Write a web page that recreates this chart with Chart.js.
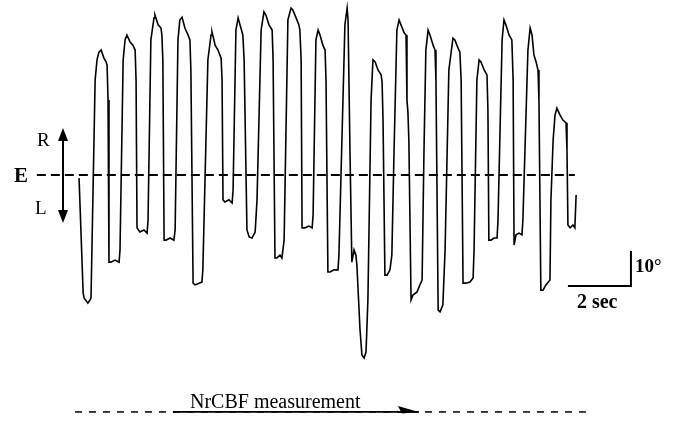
<!DOCTYPE html>
<html>
<head>
<meta charset="utf-8">
<script src="https://cdn.jsdelivr.net/npm/chart.js@4.4.1/dist/chart.umd.min.js"></script>
<style>
  body { margin: 0; background: #fff; }
  #wrap { width: 678px; height: 422px; }
</style>
</head>
<body>
<div id="wrap"><canvas id="eyeChart" width="678" height="422"></canvas></div>
<script>
// horizontal eye position trace
// time in seconds from trace start, position in degrees (+ = right, - = left)
const timeSec = [
  -0.03, 0.10, 0.13, 0.25, 0.32, 0.35, 0.48, 0.54, 0.60, 0.67, 0.76, 0.83, 0.86, 0.89, 0.92,
  0.98, 1.11, 1.24, 1.27, 1.37, 1.43, 1.49, 1.59, 1.68, 1.75, 1.78, 1.81, 1.90, 2.03, 2.13,
  2.16, 2.25, 2.35, 2.38, 2.48, 2.57, 2.60, 2.63, 2.67, 2.73, 2.86, 2.98, 3.02, 3.11, 3.17,
  3.24, 3.33, 3.43, 3.49, 3.52, 3.59, 3.65, 3.78, 3.87, 3.90, 4.06, 4.16, 4.19, 4.29, 4.38,
  4.48, 4.51, 4.54, 4.60, 4.73, 4.83, 4.86, 4.95, 5.02, 5.08, 5.17, 5.21, 5.30, 5.37, 5.46,
  5.56, 5.62, 5.75, 5.84, 5.90, 6.00, 6.10, 6.13, 6.19, 6.25, 6.35, 6.41, 6.48, 6.60, 6.70,
  6.76, 6.86, 6.95, 6.98, 7.02, 7.05, 7.14, 7.27, 7.37, 7.40, 7.49, 7.56, 7.62, 7.71, 7.78,
  7.81, 7.87, 7.94, 8.06, 8.19, 8.22, 8.41, 8.48, 8.51, 8.57, 8.63, 8.70, 8.76, 8.79, 8.89,
  8.95, 9.02, 9.08, 9.14, 9.24, 9.30, 9.37, 9.46, 9.56, 9.59, 9.62, 9.68, 9.75, 9.84, 9.90,
  9.97, 10.06, 10.13, 10.19, 10.29, 10.35, 10.38, 10.41, 10.44, 10.51, 10.57, 10.70, 10.79, 10.86, 10.92,
  10.98, 11.05, 11.11, 11.21, 11.27, 11.30, 11.37, 11.43, 11.52, 11.59, 11.71, 11.84, 11.90, 12.00, 12.06,
  12.10, 12.16, 12.25, 12.38, 12.48, 12.51, 12.60, 12.67, 12.73, 12.83, 12.92, 12.95, 12.98, 13.05, 13.14,
  13.24, 13.27, 13.40, 13.46, 13.52, 13.62, 13.71, 13.75, 13.78, 13.84, 13.94, 14.03, 14.06, 14.22, 14.29,
  14.35, 14.41, 14.48, 14.54, 14.57, 14.63, 14.70, 14.79, 14.92, 14.95, 15.02, 15.08, 15.14, 15.24, 15.33,
  15.43, 15.46, 15.49, 15.56, 15.65, 15.71, 15.75
];
const eyeDeg = [
  -0.9, -33.7, -35.1, -36.6, -35.7, -35.1, 27.1, 32.9, 35.1, 35.7, 33.4, 32.3, 31.4, 21.4, -24.9,
  -24.9, -24.3, -24.9, -21.4, 32.9, 38.6, 40.0, 38.0, 37.1, 35.7, 27.1, -15.1, -16.3, -15.7, -16.6,
  -12.9, 38.6, 44.9, 45.7, 42.9, 42.0, 40.0, 32.9, -18.6, -18.6, -18.0, -18.6, -15.7, 38.6, 44.3,
  45.1, 42.0, 40.0, 38.6, 30.0, -30.9, -31.4, -30.9, -30.6, -27.1, 32.9, 40.0, 40.9, 37.1, 35.7,
  33.4, 27.1, -7.1, -7.7, -7.1, -8.0, -4.3, 41.4, 44.9, 42.9, 40.0, 32.9, -15.7, -17.7, -18.0,
  -16.3, -7.1, 41.4, 46.6, 45.7, 42.9, 41.4, 32.9, -23.7, -23.7, -22.9, -23.7, -18.6, 44.3, 47.7,
  47.1, 44.9, 42.9, 41.4, 32.9, -15.1, -15.1, -14.6, -15.1, -11.4, 38.6, 41.4, 40.0, 37.1, 35.7,
  27.1, -27.7, -27.7, -27.1, -27.1, -22.9, 42.9, 47.7, 44.3, 7.1, -24.9, -21.4, -22.9, -25.7, -44.3,
  -51.4, -52.3, -50.6, -35.7, 21.4, 32.9, 32.3, 30.0, 28.6, 26.6, 15.7, -28.6, -28.6, -27.1, -22.9,
  7.1, 41.4, 44.3, 42.9, 40.6, 40.0, 21.4, 18.0, 10.0, -35.7, -34.3, -33.4, -31.4, -30.0, 7.1,
  35.7, 41.4, 40.0, 37.1, 35.7, 27.1, -38.6, -39.1, -37.1, -21.4, 30.0, 39.1, 38.6, 36.3, 35.1,
  27.1, -30.9, -30.9, -30.6, -29.4, -21.4, 27.1, 32.9, 32.3, 30.0, 28.6, 18.6, -18.6, -18.6, -18.0,
  -18.0, -12.9, 38.6, 44.3, 42.9, 40.0, 38.6, 27.1, -20.0, -17.1, -16.6, -17.1, -12.9, 35.7, 42.0,
  40.0, 34.3, 32.3, 30.0, 21.4, -32.9, -32.9, -31.4, -30.0, -7.1, 10.0, 17.1, 19.1, 17.1, 15.7,
  14.9, 7.1, -14.3, -15.1, -14.3, -15.1, -5.7
];

// straight-ahead (E) reference line
const baselineT = [-1.37, 15.71];
const baselineDeg = [0, 0];

// scale bar: 2 sec horizontal, 10 deg vertical
const scaleBarT = [15.49, 17.49, 17.49];
const scaleBarDeg = [-31.7, -31.7, -21.7];

// NrCBF measurement period marker under the trace
const periodDashT = [-0.16, 16.06];
const periodArrowT = [2.95, 10.76];
const periodDeg = -67.7;

const toPoints = (xs, ys) => xs.map((x, i) => ({ x: x, y: ys[i] }));

const serif = "'Liberation Serif', 'DejaVu Serif', serif";

const figureText = {
  id: "figureText",
  afterDraw(chart) {
    const ctx = chart.ctx;
    const xs = chart.scales.x;
    const ys = chart.scales.y;
    const y0 = ys.getPixelForValue(0);
    ctx.save();
    ctx.fillStyle = "#000";
    ctx.strokeStyle = "#000";

    // R / E / L labels with the double arrow
    ctx.textBaseline = "alphabetic";
    ctx.font = "19px " + serif;
    ctx.fillText("R", 37, 146);
    ctx.fillText("L", 35, 214);
    ctx.font = "bold 21px " + serif;
    ctx.fillText("E", 14, y0 + 7);

    const ax = 63;
    ctx.lineWidth = 2;
    ctx.beginPath();
    ctx.moveTo(ax, 138);
    ctx.lineTo(ax, 213);
    ctx.stroke();
    ctx.beginPath();
    ctx.moveTo(ax, 128);
    ctx.lineTo(ax - 5, 141);
    ctx.lineTo(ax + 5, 141);
    ctx.closePath();
    ctx.fill();
    ctx.beginPath();
    ctx.moveTo(ax, 223);
    ctx.lineTo(ax - 5, 210);
    ctx.lineTo(ax + 5, 210);
    ctx.closePath();
    ctx.fill();

    // scale bar labels
    const barX = xs.getPixelForValue(scaleBarT[1]);
    const barTop = ys.getPixelForValue(scaleBarDeg[2]);
    const barBot = ys.getPixelForValue(scaleBarDeg[0]);
    ctx.font = "bold 19px " + serif;
    ctx.fillText("10°", barX + 4, barTop + 21);
    ctx.font = "bold 20px " + serif;
    ctx.fillText("2 sec", xs.getPixelForValue(scaleBarT[0]) + 9, barBot + 22);

    // period arrowhead and text
    const py = ys.getPixelForValue(periodDeg);
    const tip = xs.getPixelForValue(periodArrowT[1]);
    ctx.beginPath();
    ctx.moveTo(tip, py);
    ctx.lineTo(tip - 21, py - 6);
    ctx.lineTo(tip - 17, py + 1.5);
    ctx.closePath();
    ctx.fill();
    ctx.font = "20px " + serif;
    ctx.fillText("NrCBF measurement", 190, py - 4);
    ctx.restore();
  },
};

const makeChart = () => {
  const chart_ctx = document.getElementById("eyeChart");
  const data = {
    datasets: [
      {
        label: "E",
        data: toPoints(baselineT, baselineDeg),
        borderColor: "#000",
        borderWidth: 2.2,
        borderDash: [9, 5],
        pointRadius: 0,
      },
      {
        label: "eye position",
        data: toPoints(timeSec, eyeDeg),
        borderColor: "#000",
        borderWidth: 1.6,
        pointRadius: 0,
        tension: 0,
      },
      {
        label: "scale",
        data: toPoints(scaleBarT, scaleBarDeg),
        borderColor: "#000",
        borderWidth: 2,
        pointRadius: 0,
      },
      {
        label: "period dashes",
        data: toPoints(periodDashT, [periodDeg, periodDeg]),
        borderColor: "#000",
        borderWidth: 1.5,
        borderDash: [7, 7],
        pointRadius: 0,
      },
      {
        label: "period",
        data: toPoints(periodArrowT, [periodDeg, periodDeg]),
        borderColor: "#000",
        borderWidth: 1.8,
        pointRadius: 0,
      },
    ],
  };
  const config = {
    type: "line",
    data,
    options: {
      responsive: false,
      animation: false,
      devicePixelRatio: 1,
      layout: { padding: 0 },
      plugins: {
        legend: { display: false },
        tooltip: { enabled: false },
      },
      scales: {
        x: { type: "linear", min: -80 / 31.5, max: 598 / 31.5, display: false },
        y: { type: "linear", min: -247 / 3.5, max: 50, display: false },
      },
    },
    plugins: [figureText],
  };
  return new Chart(chart_ctx, config);
};

makeChart();
</script>
</body>
</html>
